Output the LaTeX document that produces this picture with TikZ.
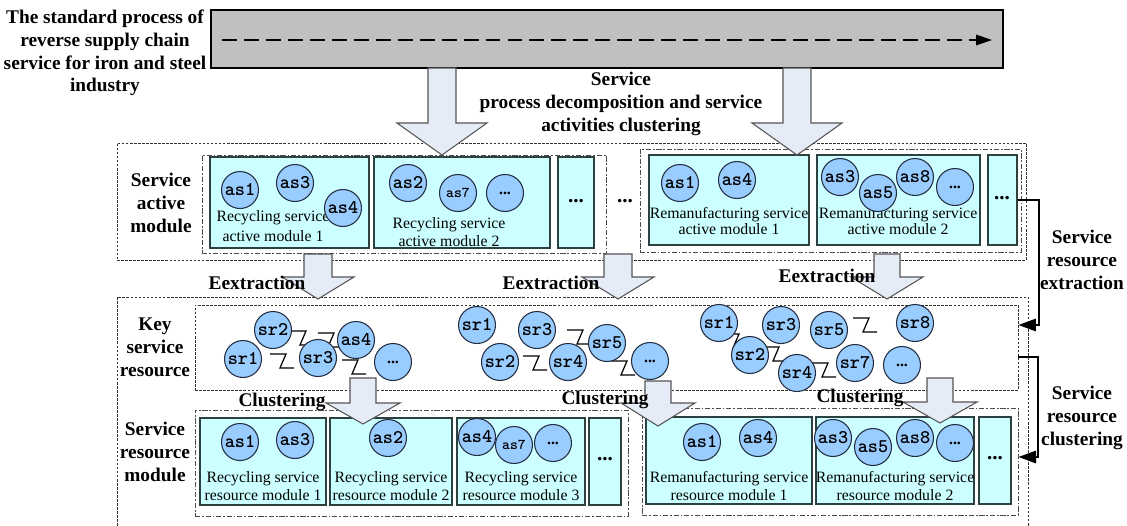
\documentclass[tikz,border=0pt]{standalone}
\usepackage{fontspec}
\setmainfont{Liberation Serif}
\usepackage{xcolor}
\usetikzlibrary{arrows.meta,fit}
\definecolor{balkengrau}{RGB}{192,192,192}
\definecolor{pfeilblau}{RGB}{229,236,247}
\definecolor{pfeilrand}{RGB}{85,85,85}
\definecolor{tuerkis}{RGB}{204,255,255}
\definecolor{boxrand}{RGB}{45,65,65}
\definecolor{hellblau}{RGB}{153,204,255}
\definecolor{kreisrand}{RGB}{35,45,65}
% Blockpfeil: x-Mitte, y oben, y Kopfansatz, y Spitze, halbe Schaftbreite, halbe Kopfbreite
\newcommand{\blockpfeil}[6]{%
  \filldraw[pfeil] ({#1-#5},#2) -- ({#1-#5},#3) -- ({#1-#6},#3) -- (#1,#4) -- ({#1+#6},#3) -- ({#1+#5},#3) -- ({#1+#5},#2) -- cycle;}

\begin{document}
\begin{tikzpicture}[x=0.02cm, y=-0.02cm,
    titel/.style={font=\fontsize{11}{13}\selectfont\bfseries, align=center, inner sep=0pt},
    modul/.style={draw=boxrand, fill=tuerkis, line width=0.7pt, inner sep=0pt},
    modtext/.style={font=\fontsize{9}{10.5}\selectfont, align=center, inner sep=0pt},
    kreis/.style={circle, draw=kreisrand, fill=hellblau, line width=0.6pt, minimum size=0.74cm, inner sep=0pt, font=\fontsize{11}{11}\selectfont\ttfamily\bfseries},
    klein/.style={font=\fontsize{8.5}{8.5}\selectfont\ttfamily\bfseries},
    aussen/.style={draw=black!80, line width=0.4pt, dash pattern=on 1.5pt off 0.8pt, inner sep=0pt},
    gruppe/.style={draw=black!70, line width=0.5pt, dash pattern=on 3pt off 1pt on 1pt off 1pt, inner sep=0pt},
    pfeil/.style={fill=pfeilblau, draw=pfeilrand, line width=0.6pt},
    zl/.pic={\draw[line width=0.7pt] (-12,-7) -- (4,-7) -- (-2,7) -- (12,7);},
    knick/.style={line width=1.2pt, -{Triangle[length=10pt,width=7pt]}},
    punkte/.style={font=\fontsize{12}{12}\selectfont\bfseries, inner sep=0pt}]
    \useasboundingbox (0,0) rectangle (1127,525);

    % Prozessbalken oben
    \node[draw=black, fill=balkengrau, line width=0.6pt, inner sep=0pt, fit={(211,10) (1003,68)}] (balken) {};
    \coordinate (pstart) at (222,40);
    \coordinate (pende) at (992,40);
    \draw[line width=0.8pt, dash pattern=on 8.5pt off 4pt, -{Triangle[length=9pt,width=6pt]}] (pstart) -- (pende);
    \node[titel] (prozess) at (105,53) {The standard process of\\reverse supply chain\\service for iron and steel\\industry};
    \node[titel] (zerlegung) at (621,104) {Service\\process decomposition and service\\activities clustering};

    % Ebene 1: Aktivitaetsmodule
    \node[aussen, fit={(117,143) (1026,260)}] (ebene1) {};
    \node[titel] (akt) at (161,203) {Service\\active\\module};
    \node[gruppe, fit={(202,155) (606,253)}] (grA) {};
    \node[gruppe, fit={(640,149) (1021,252)}] (grB) {};
    \node[modul, fit={(210,157) (369,248)}] (ar1) {};
    \node[modul, fit={(374,157) (550,248)}] (ar2) {};
    \node[modul, fit={(558,157) (594,248)}] (arp) {};
    \node[modul, fit={(649,155) (809,245)}] (am1) {};
    \node[modul, fit={(817,155) (980,245)}] (am2) {};
    \node[modul, fit={(988,155) (1017,245)}] (amp) {};
    \node[modtext, font=\fontsize{9}{11.5}\selectfont] (tar1) at (273,226) {Recycling service\\active module 1};
    \node[modtext, font=\fontsize{9}{10.5}\selectfont] (tar2) at (449,232) {Recycling service\\active module 2};
    \node[modtext, font=\fontsize{9}{9.5}\selectfont] (tam1) at (729,221) {Remanufacturing service\\active module 1};
    \node[modtext, font=\fontsize{9}{9.5}\selectfont] (tam2) at (898,221) {Remanufacturing service\\active module 2};
    \node[punkte] (parp) at (576,201) {...};
    \node[punkte] (pzw) at (625,201) {...};
    \node[punkte] (pamp) at (1002,198) {...};
    % Kreise Ebene 1
    \node[kreis] (ar1as1) at (240,190) {as1};
    \node[kreis] (ar1as3) at (295,183) {as3};
    \node[kreis] (ar1as4) at (343,208) {as4};
    \node[kreis] (ar2as2) at (408,183) {as2};
    \node[kreis, klein] (ar2as7) at (458,193) {as7};
    \node[kreis, font=\fontsize{9}{9}\selectfont\bfseries] (ar2p) at (505,193) {...};
    \node[kreis] (am1as1) at (680,183) {as1};
    \node[kreis] (am1as4) at (737,180) {as4};
    \node[kreis] (am2as3) at (840,177) {as3};
    \node[kreis] (am2as5) at (878,193) {as5};
    \node[kreis] (am2as8) at (915,177) {as8};
    \node[kreis, font=\fontsize{9}{9}\selectfont\bfseries] (am2p) at (955,187) {...};

    % Pfeile vom Balken
    \blockpfeil{442}{68}{123}{155}{14}{45}
    \blockpfeil{797}{68}{123}{155}{14}{45}

    % Ebene 2: Schluesselressourcen
    \draw[aussen] (117,530) -- (117,297) -- (1028,297) -- (1028,530);
    \node[aussen, fit={(195,305) (1018,390)}] (schluessel) {};
    \node[titel] (key) at (155,347) {Key\\service\\resource};
    \pic at (302,338) {zl};
    \pic at (330,340) {zl};
    \pic at (282,361) {zl};
    \pic at (354,367) {zl};
    \pic at (535,363) {zl};
    \pic at (579,337) {zl};
    \pic at (623,368) {zl};
    \pic at (735,341) {zl};
    \pic at (775,354) {zl};
    \pic at (824,370) {zl};
    \pic at (865,325) {zl};
    \node[kreis] (ksr2) at (273,330) {sr2};
    \node[kreis] (kas4) at (356,340) {as4};
    \node[kreis] (ksr1) at (243,359) {sr1};
    \node[kreis] (ksr3) at (318,358) {sr3};
    \node[kreis, font=\fontsize{9}{9}\selectfont\bfseries] (kp1) at (393,362) {...};
    \node[kreis] (msr1) at (477,325) {sr1};
    \node[kreis] (msr3) at (537,330) {sr3};
    \node[kreis] (msr5) at (607,343) {sr5};
    \node[kreis] (msr2) at (500,362) {sr2};
    \node[kreis] (msr4) at (568,362) {sr4};
    \node[kreis, font=\fontsize{9}{9}\selectfont\bfseries] (mp1) at (650,361) {...};
    \node[kreis] (rsr1) at (719,323) {sr1};
    \node[kreis] (rsr3) at (781,325) {sr3};
    \node[kreis] (rsr5) at (829,330) {sr5};
    \node[kreis] (rsr8) at (915,323) {sr8};
    \node[kreis] (rsr2) at (750,355) {sr2};
    \node[kreis] (rsr4) at (797,373) {sr4};
    \node[kreis] (rsr7) at (855,363) {sr7};
    \node[kreis, font=\fontsize{9}{9}\selectfont\bfseries] (rp1) at (902,365) {...};

    % Extraktionspfeile
    \blockpfeil{318}{254}{277}{299}{14}{36}
    \blockpfeil{618}{254}{277}{299}{14}{36}
    \blockpfeil{887}{254}{277}{299}{13}{36}
    \node[titel] (ex1) at (257,283) {Eextraction};
    \node[titel] (ex2) at (551,283) {Eextraction};
    \node[titel] (ex3) at (827,276) {Eextraction};

    % Ebene 3: Ressourcenmodule
    \node[titel] (res) at (155,452) {Service\\resource\\module};
    \node[gruppe, fit={(195,410) (628,516)}] (grC) {};
    \node[gruppe, fit={(642,408) (1018,515)}] (grD) {};
    \node[modul, fit={(200,418) (326,505)}] (rr1) {};
    \node[modul, fit={(330,418) (452,505)}] (rr2) {};
    \node[modul, fit={(457,418) (585,505)}] (rr3) {};
    \node[modul, fit={(589,418) (621,505)}] (rrp) {};
    \node[modul, fit={(646,417) (812,504)}] (rm1) {};
    \node[modul, fit={(816,417) (974,504)}] (rm2) {};
    \node[modul, fit={(979,417) (1011,504)}] (rmp) {};
    \node[modtext] (trr1) at (263,486) {Recycling service\\resource module 1};
    \node[modtext] (trr2) at (391,486) {Recycling service\\resource module 2};
    \node[modtext] (trr3) at (521,486) {Recycling service\\resource module 3};
    \node[modtext] (trm1) at (729,486) {Remanufacturing service\\resource module 1};
    \node[modtext] (trm2) at (895,486) {Remanufacturing service\\resource module 2};
    \node[punkte] (prrp) at (605,459) {...};
    \node[punkte] (prmp) at (995,458) {...};
    % Kreise Ebene 3
    \node[kreis] (rr1as1) at (240,442) {as1};
    \node[kreis] (rr1as3) at (295,440) {as3};
    \node[kreis] (rr2as2) at (388,438) {as2};
    \node[kreis] (rr3as4) at (477,437) {as4};
    \node[kreis, klein] (rr3as7) at (514,445) {as7};
    \node[kreis, font=\fontsize{9}{9}\selectfont\bfseries] (rr3p) at (553,443) {...};
    \node[kreis] (rm1as1) at (702,442) {as1};
    \node[kreis] (rm1as4) at (758,438) {as4};
    \node[kreis] (rm2as3) at (833,438) {as3};
    \node[kreis] (rm2as5) at (873,447) {as5};
    \node[kreis] (rm2as8) at (915,438) {as8};
    \node[kreis, font=\fontsize{9}{9}\selectfont\bfseries] (rm2p) at (955,443) {...};

    % Clusterpfeile
    \blockpfeil{363}{378}{403}{424}{13}{37}
    \blockpfeil{658}{381}{403}{426}{13}{37}
    \blockpfeil{940}{378}{402}{423}{13}{37}
    \node[titel] (cl1) at (282,402) {Clustering};
    \node[titel] (cl2) at (605,400) {Clustering};
    \node[titel] (cl3) at (860,398) {Clustering};

    % Rechte Seite
    \draw[knick] (amp.east) -- ++(21,0) |- (schluessel.east |- 0,325);
    \draw[knick] (schluessel.east |- 0,357) -- ++(20,0) |- (grD.east |- 0,457);
    \node[titel] (sre) at (1082,260) {Service\\resource\\extraction};
    \node[titel] (src) at (1082,418) {Service\\resource\\clustering};
\end{tikzpicture}
\end{document}
